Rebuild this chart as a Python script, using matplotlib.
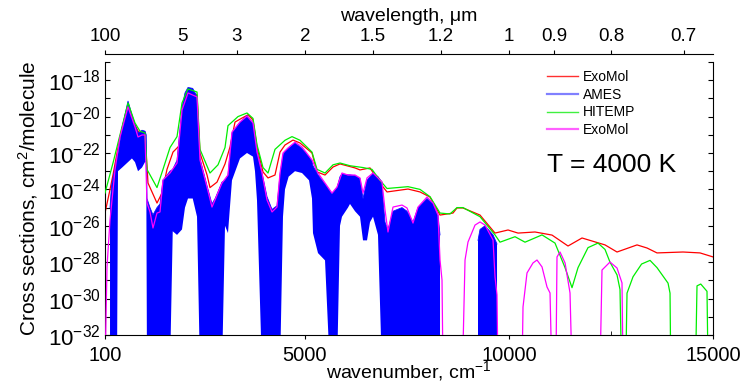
"""Cross sections at T = 4000 K: ExoMol vs AMES vs HITEMP, wavenumber with wavelength on top."""
import numpy as np
import matplotlib
matplotlib.use("Agg")
import matplotlib.pyplot as plt
from matplotlib.lines import Line2D
from matplotlib.ticker import FixedLocator, FuncFormatter, NullLocator

plt.rcParams["font.family"] = ["Liberation Sans", "DejaVu Sans"]
plt.rcParams["mathtext.fontset"] = "custom"
plt.rcParams["mathtext.rm"] = "Liberation Sans"
plt.rcParams["mathtext.it"] = "Liberation Sans:italic"
plt.rcParams["mathtext.bf"] = "Liberation Sans:bold"

nan = np.nan

# ExoMol (red) - log10 cross section vs wavenumber (cm-1)
exomol_wn = [100, 223, 296, 468, 664, 835, 958, 1080, 1154, 1374,
             1497, 1619, 1766, 1938, 2061, 2183, 2355, 2428, 2600, 2673,
             2845, 3041, 3163, 3286, 3458, 3605, 3727, 3825, 3972, 4095,
             4266, 4389, 4511, 4707, 4879, 5173, 5296, 5492, 5688, 5859,
             6227, 6349, 6594, 6839, 7011, 7526, 7820, 8065, 8310, 8628,
             8726, 8873, 9290, 9658, 9977, 10222, 10638, 11055, 11447, 11790,
             12354, 12648, 13138, 13383, 13628, 14265, 14682, 15000]
exomol_log = [-25.3, -24.0, -23.2, -21.1, -19.36, -20.46, -21.0, -20.85, -23.65, -24.75,
              -24.2, -22.9, -21.95, -21.56, -19.75, -18.65, -18.81, -22.0, -23.2, -23.9,
              -23.6, -22.6, -21.67, -20.3, -20.08, -19.9, -20.19, -21.67, -23.04, -23.37,
              -23.21, -21.95, -21.56, -21.29, -21.45, -22.0, -23.04, -23.21, -22.77, -22.6,
              -22.82, -22.93, -22.82, -23.65, -24.14, -23.98, -24.14, -24.42, -25.41, -25.3,
              -25.02, -25.02, -25.41, -26.4, -26.23, -26.4, -26.34, -26.51, -27.11, -26.67,
              -27.05, -27.44, -27.05, -27.22, -27.49, -27.44, -27.49, -27.71]

# AMES (blue) - upper and lower envelope of the dense line forest
ames_wn = [223, 260, 394, 419, 520, 664, 760, 835, 909, 1007,
           1080, 1110, 1129, 1203, 1276, 1374, 1448, 1521, 1693, 1760,
           1865, 1987, 2060, 2134, 2250, 2355, 2428, 2600, 2722, 2800,
           2967, 3041, 3114, 3212, 3408, 3580, 3727, 3776, 3825, 3948,
           4070, 4193, 4315, 4389, 4462, 4511, 4600, 4756, 4928, 5100,
           5173, 5197, 5320, 5492, 5614, 5663, 5786, 5859, 5908, 6055,
           6104, 6227, 6349, 6423, 6521, 6594, 6668, 6790, 6888, 6913,
           6962, 7035, 7158, 7379, 7501, 7648, 7771, 7991, 8138, 8261,
           8310, nan, 9241, 9290, 9413, 9609, 9707]
ames_top = [-25.0, -23.8, -22.2, -22.0, -20.6, -19.15, -19.9, -20.45, -20.9, -20.75,
            -20.8, -21.0, -24.5, -25.0, -25.4, -25.0, -24.8, -23.5, -23.0, -22.9,
            -22.4, -19.5, -18.7, -18.4, -18.45, -18.9, -22.3, -23.8, -24.8, -24.5,
            -23.6, -23.5, -23.2, -20.9, -20.3, -19.95, -20.35, -21.0, -21.9, -23.1,
            -24.4, -25.1, -24.9, -23.2, -22.1, -21.9, -21.7, -21.45, -21.75, -22.2,
            -22.45, -22.7, -23.2, -23.7, -24.1, -24.25, -23.9, -23.3, -23.15, -23.2,
            -23.2, -23.25, -23.4, -24.5, -23.5, -23.3, -23.1, -23.3, -23.6, -24.5,
            -25.8, -26.2, -25.2, -25.0, -25.2, -25.8, -25.0, -24.5, -24.8, -25.4,
            -26.5, nan, -26.8, -26.2, -26.0, -26.5, -27.0]
ames_bot = [-34, -34, -34, -23.0, -22.8, -22.5, -22.3, -22.5, -23.0, -22.8,
            -22.5, -22.5, -34, -34, -34, -34, -34, -34, -34, -26.3,
            -26.5, -26.2, -25.0, -24.5, -24.5, -25.5, -34, -34, -34, -34,
            -34, -26.0, -26.4, -23.5, -22.3, -22.0, -22.2, -23.0, -24.6, -34,
            -34, -34, -34, -34, -25.5, -24.0, -23.3, -23.0, -23.1, -23.5,
            -24.5, -26.4, -27.5, -27.9, -34, -34, -34, -26.0, -25.5, -25.0,
            -24.8, -25.2, -25.5, -26.8, -26.8, -25.8, -25.5, -26.5, -34, -34,
            -34, -34, -34, -34, -34, -34, -34, -34, -34, -34,
            -34, nan, -34, -34, -34, -34, -34]

# HITEMP (green)
hitemp_wn = [100, 296, 468, 664, 835, 958, 1080, 1129, 1374, 1521,
             1693, 1865, 1987, 2134, 2355, 2428, 2673, 2869, 3041, 3114,
             3212, 3359, 3580, 3727, 3825, 3972, 4095, 4266, 4511, 4683,
             4879, 5173, 5296, 5492, 5688, 5859, 6104, 6423, 6643, 6839,
             7011, 7526, 7820, 8065, 8310, 8555, 8726, 8873, 9290, 9658,
             9780, 10148, 10393, 10810, 11128, 11374, 11545, 11692, 11937, 12182,
             12354, 12476, 12648, 12721, 12760, nan, 12860, 12893, 13040, 13250,
             13457, 13628, 13898, 13947, 13965, nan, 14570, 14608, 14700, 14853,
             14880]
hitemp_log = [-24.2, -22.55, -21.0, -19.25, -20.35, -20.8, -20.9, -22.9, -23.9, -22.9,
              -21.7, -21.1, -19.25, -18.48, -18.65, -21.8, -23.1, -22.65, -21.7, -20.5,
              -20.3, -20.0, -19.8, -20.1, -21.55, -22.8, -23.1, -21.8, -21.3, -21.1,
              -21.3, -21.95, -22.9, -23.1, -22.65, -22.55, -22.7, -22.8, -22.9, -23.5,
              -23.95, -23.85, -24.0, -24.4, -25.3, -25.35, -25.0, -25.0, -25.5, -26.5,
              -26.9, -26.6, -26.9, -26.5, -26.95, -28.3, -29.4, -28.3, -27.2, -26.95,
              -27.3, -28.0, -28.7, -29.5, -34, nan, -34, -29.7, -28.8, -28.1,
              -27.9, -28.3, -29.15, -29.7, -34, nan, -34, -29.3, -29.2, -29.6,
              -34]

# ExoMol (magenta)
exomol2_wn = [100, 149, 223, 345, 468, 664, 835, 909, 1007, 1080,
              1129, 1203, 1276, 1374, 1448, 1521, 1693, 1865, 1987, 2134,
              2355, 2428, 2600, 2722, 2796, 2967, 3114, 3212, 3408, 3580,
              3727, 3825, 3948, 4070, 4193, 4315, 4389, 4462, 4585, 4756,
              4928, 5173, 5320, 5492, 5663, 5786, 5908, 6055, 6227, 6349,
              6423, 6521, 6668, 6888, 6962, 7035, 7158, 7379, 7501, 7648,
              7771, 7991, 8138, 8261, 8310, 8359, 8383, nan, 8860, 8923,
              8996, 9168, 9290, 9413, 9609, 9658, 9707, 9730, nan, 10320,
              10344, 10442, 10589, 10687, 10810, 10932, 11006, 11050, nan, 11150,
              11177, 11251, 11374, 11496, 11545, nan, 12231, 12280, 12476, 12648,
              12770, 12795]
exomol2_log = [-34, -28.26, -25.68, -22.93, -21.12, -19.47, -20.57, -21.12, -21.01, -21.01,
               -24.75, -25.24, -26.12, -25.3, -25.24, -23.48, -23.1, -22.55, -19.64, -18.7,
               -18.92, -22.38, -23.87, -24.97, -24.58, -23.65, -23.21, -20.85, -20.3, -19.97,
               -20.35, -21.95, -23.1, -24.58, -25.24, -24.97, -23.1, -22.0, -21.73, -21.4,
               -21.67, -22.38, -23.1, -23.65, -24.2, -23.87, -23.1, -23.21, -23.21, -23.37,
               -24.2, -23.37, -23.1, -23.59, -25.13, -26.34, -24.97, -24.86, -25.02, -25.85,
               -24.97, -24.42, -24.75, -25.41, -27.88, -28.98, -34, nan, -34, -27.88,
               -26.89, -25.96, -25.79, -25.96, -26.78, -28.81, -29.8, -34, nan, -34,
               -30.46, -28.59, -28.04, -27.88, -28.26, -29.36, -29.69, -34, nan, -34,
               -27.71, -27.44, -28.04, -29.69, -34, nan, -34, -28.43, -27.99, -28.32,
               -29.14, -34]

wl_ticks = [100, 5, 3, 2, 1.5, 1.2, 1, 0.9, 0.8, 0.7]
wl_labels = ["100", "5", "3", "2", "1.5", "1.2", "1", "0.9", "0.8", "0.7"]
wn_ticks = [100, 5000, 10000, 15000]


def sig(v):
    return 10.0 ** np.asarray(v, dtype=float)


fig = plt.figure(figsize=(7.47, 3.88), dpi=100)
ax = fig.add_axes([105 / 747, 53 / 388, 608 / 747, 273 / 388])

ax.plot(exomol_wn, sig(exomol_log), color="#ff0000", lw=0.9, zorder=2)
ax.fill_between(ames_wn, sig(ames_bot), sig(ames_top), color="#0000ff", lw=0, zorder=3)
ax.plot(ames_wn, sig(ames_top), color="#1010ff", lw=0.6, zorder=3)
ax.plot(hitemp_wn, sig(hitemp_log), color="#00ee00", lw=0.9, zorder=4)
ax.plot(exomol2_wn, sig(exomol2_log), color="#ff00ff", lw=0.9, zorder=5)

ax.set_yscale("log")
ax.set_ylim(1e-32, 1e-17)
ax.set_xlim(100, 15000)

ax.yaxis.set_major_locator(FixedLocator(10.0 ** np.arange(-32, -16)))
ax.yaxis.set_minor_locator(NullLocator())
ax.yaxis.set_major_formatter(FuncFormatter(
    lambda v, p: f"$10^{{{int(round(np.log10(v)))}}}$" if int(round(np.log10(v))) % 2 == 0 else ""))
ax.tick_params(axis="y", which="major", direction="in", length=3.5, right=True,
               labelsize=16, pad=3)

ax.set_xticks(wn_ticks)
ax.set_xticklabels([str(t) for t in wn_ticks])
ax.set_xticks([2500, 7500, 12500], minor=True)
ax.tick_params(axis="x", which="major", direction="out", length=3, labelsize=14.5, pad=5)
ax.tick_params(axis="x", which="minor", direction="in", length=3)
ax.spines["top"].set_visible(False)

ax.set_xlabel("wavenumber, cm$^{-1}$", fontsize=14)
ax.xaxis.set_label_coords(0.5, -0.088)
ax.set_ylabel("Cross sections, cm$^{2}$/molecule", fontsize=15, labelpad=6)

# wavelength axis on top
ax2 = ax.twiny()
ax2.set_xlim(100, 15000)
ax2.set_xticks([1e4 / w for w in wl_ticks])
ax2.set_xticklabels(wl_labels)
ax2.xaxis.set_minor_locator(NullLocator())
for s in ("left", "right", "bottom"):
    ax2.spines[s].set_visible(False)
ax2.spines["top"].set_position(("outward", 6))
ax2.tick_params(axis="x", direction="out", length=3, labelsize=13.5, pad=3)
ax2.set_xlabel("wavelength, \u03bcm", fontsize=14)
ax2.xaxis.set_label_coords(0.5, 1.15)

handles = [Line2D([], [], color="#ff3030", lw=1.0),
           Line2D([], [], color="#8080ff", lw=1.6),
           Line2D([], [], color="#40f040", lw=1.0),
           Line2D([], [], color="#ff60ff", lw=1.6)]
ax.legend(handles, ["ExoMol", "AMES", "HITEMP", "ExoMol"],
          loc="upper left", bbox_to_anchor=(0.727, 0.971), frameon=False, fontsize=10,
          handlelength=2.2, handletextpad=0.4, labelspacing=0.27, borderpad=0,
          borderaxespad=0)
ax.text(0.727, 0.623, "T = 4000 K", transform=ax.transAxes, fontsize=19,
        ha="left", va="center")

fig.savefig("out.png", dpi=100)
